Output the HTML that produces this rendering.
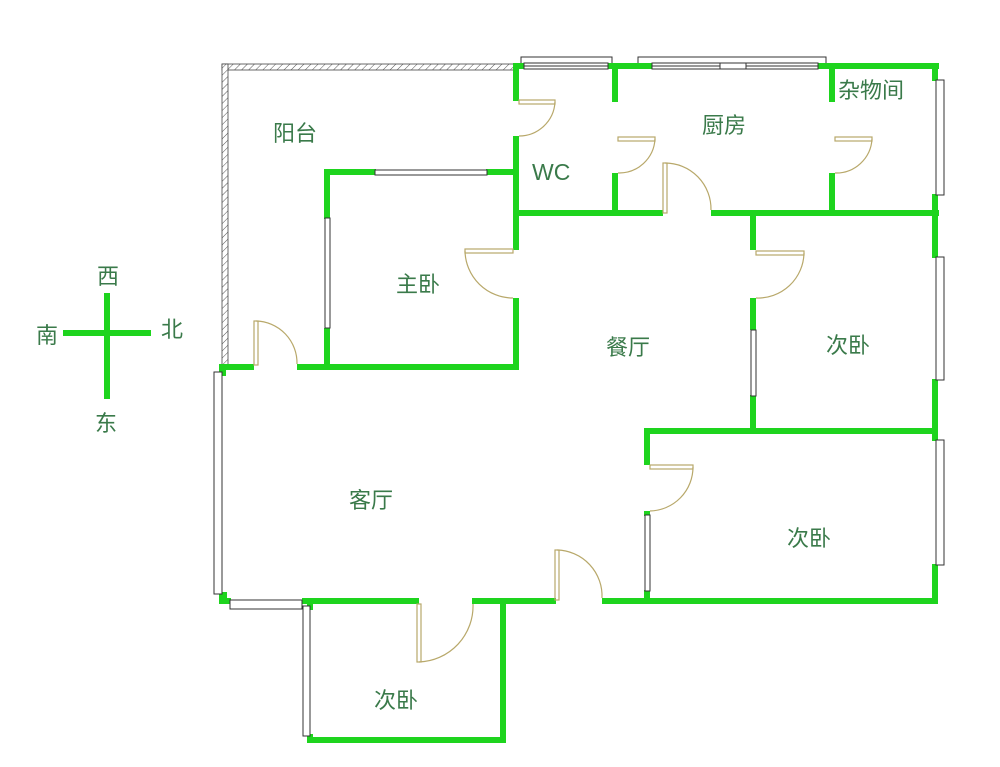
<!DOCTYPE html>
<html><head><meta charset="utf-8"><style>
html,body{margin:0;padding:0;background:#fff;}
svg{display:block}
text{font-family:"Liberation Sans","Noto Sans CJK SC",sans-serif;fill:#3a7a4a;font-size:22px;}
</style></head><body>
<svg width="1000" height="767" viewBox="0 0 1000 767" xmlns="http://www.w3.org/2000/svg">
<defs>
<pattern id="h" width="5" height="5" patternUnits="userSpaceOnUse" patternTransform="rotate(45)">
<rect width="5" height="5" fill="#fff"/><line x1="0" y1="0" x2="0" y2="5" stroke="#555" stroke-width="1"/>
</pattern>
</defs>
<rect x="222" y="64" width="294" height="6" fill="url(#h)" stroke="#444" stroke-width="0.8"/>
<rect x="222" y="64" width="6" height="304" fill="url(#h)" stroke="#444" stroke-width="0.8"/>

<g fill="#1ed41e">
<rect x="513" y="63" width="426" height="6"/>
<rect x="513" y="63" width="6" height="38"/>
<rect x="513" y="136" width="6" height="114"/>
<rect x="513" y="298" width="6" height="72"/>
<rect x="324" y="169" width="52" height="6"/>
<rect x="486" y="169" width="32" height="6"/>
<rect x="324" y="169" width="6" height="50"/>
<rect x="324" y="328" width="6" height="40"/>
<rect x="222" y="364" width="32" height="6"/>
<rect x="297" y="364" width="222" height="6"/>
<rect x="219" y="364" width="7" height="12"/>
<rect x="612" y="63" width="6" height="39"/>
<rect x="612" y="173" width="6" height="43"/>
<rect x="513" y="210" width="150" height="6"/>
<rect x="711" y="210" width="228" height="6"/>
<rect x="829" y="63" width="6" height="39"/>
<rect x="829" y="173" width="6" height="43"/>
<rect x="932" y="63" width="6" height="18"/>
<rect x="932" y="194" width="6" height="64"/>
<rect x="932" y="379" width="6" height="62"/>
<rect x="932" y="564" width="6" height="40"/>
<rect x="750" y="210" width="6" height="40"/>
<rect x="750" y="298" width="6" height="32"/>
<rect x="750" y="395" width="6" height="38"/>
<rect x="644" y="428" width="294" height="6"/>
<rect x="644" y="428" width="6" height="37"/>
<rect x="644" y="511" width="6" height="5"/>
<rect x="644" y="590" width="6" height="12"/>
<rect x="602" y="598" width="336" height="6"/>
<rect x="472" y="598" width="84" height="6"/>
<rect x="302" y="598" width="117" height="6"/>
<rect x="219" y="592" width="8" height="12"/>
<rect x="219" y="598" width="12" height="6"/>
<rect x="307" y="598" width="6" height="12"/>
<rect x="307" y="734" width="6" height="8"/>
<rect x="307" y="737" width="199" height="6"/>
<rect x="500" y="598" width="6" height="145"/>
<rect x="63" y="330" width="88" height="6"/>
<rect x="104" y="293" width="6" height="106"/>
</g>

<g fill="#fff" stroke="#333" stroke-width="1">
<path d="M521 63 V57 H612 V63" fill="none"/>
<rect x="524" y="63" width="84" height="6"/>
<line x1="524" y1="66" x2="608" y2="66"/>
<path d="M638 63 V57 H826 V63" fill="none"/>
<rect x="652" y="63" width="166" height="6"/>
<line x1="652" y1="66" x2="818" y2="66"/>
<rect x="720" y="63" width="26" height="6"/>
<rect x="936" y="80" width="8" height="115"/>
<rect x="936" y="257" width="8" height="123"/>
<rect x="936" y="440" width="8" height="125"/>
<rect x="214" y="372" width="8" height="222"/>
<rect x="230" y="600" width="72" height="9"/>
<rect x="303" y="606" width="7" height="130"/>
<rect x="375" y="170" width="112" height="5"/>
<rect x="325" y="218" width="5" height="110"/>
<rect x="751" y="330" width="5" height="66"/>
<rect x="645" y="515" width="5" height="76"/>
</g>

<g fill="none" stroke="#b8a86a" stroke-width="1.2">
<rect x="519" y="100" width="36" height="4"/><path d="M555 102 A36 36 0 0 1 519 136"/>
<rect x="618" y="137" width="37" height="4"/><path d="M655 139 A36 36 0 0 1 618 173"/>
<rect x="835" y="137" width="37" height="4"/><path d="M872 139 A36 36 0 0 1 835 173"/>
<rect x="663" y="163" width="4" height="50"/><path d="M665 163 A46 46 0 0 1 711 210"/>
<rect x="465" y="249" width="48" height="4"/><path d="M465 251 A48 48 0 0 0 513 298"/>
<rect x="756" y="251" width="48" height="4"/><path d="M804 253 A46 46 0 0 1 756 298"/>
<rect x="650" y="465" width="43" height="4"/><path d="M693 467 A44 44 0 0 1 650 511"/>
<rect x="254" y="321" width="4" height="44"/><path d="M256 321 A42 42 0 0 1 297 364"/>
<rect x="555" y="550" width="4" height="50"/><path d="M557 550 A46 46 0 0 1 602 598"/>
<rect x="417" y="604" width="4" height="58"/><path d="M419 662 A56 56 0 0 0 473 604"/>
</g>

<rect x="836" y="72" width="95" height="34" fill="#fff"/>
<text x="273" y="141">阳台</text>
<text x="532" y="180" style="font-size:23px">WC</text>
<text x="702" y="133">厨房</text>
<text x="838" y="98">杂物间</text>
<text x="396" y="292">主卧</text>
<text x="606" y="355">餐厅</text>
<text x="826" y="353">次卧</text>
<text x="349" y="508">客厅</text>
<text x="787" y="546">次卧</text>
<text x="374" y="708">次卧</text>
<text x="97" y="284">西</text>
<text x="36" y="343">南</text>
<text x="161" y="337">北</text>
<text x="95" y="431">东</text>
</svg>
</body></html>
